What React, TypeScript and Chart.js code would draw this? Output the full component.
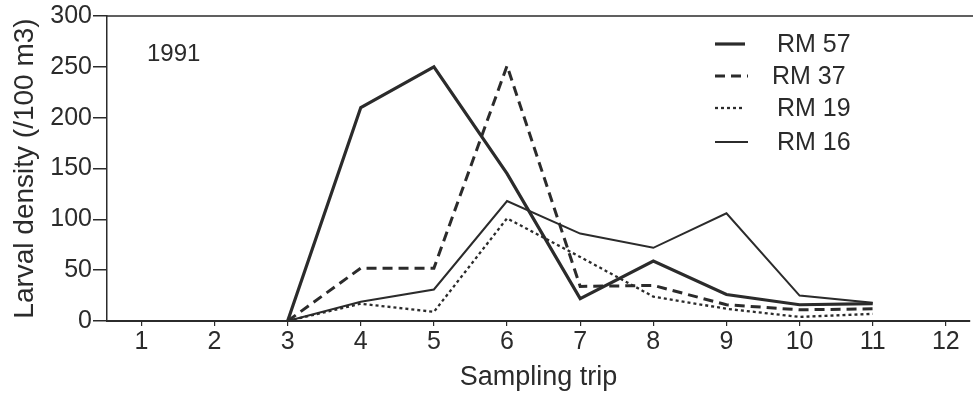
import React, { useEffect, useRef } from "react";
import { Chart, registerables } from "chart.js";

Chart.register(...registerables);

const trips = [3, 4, 5, 6, 7, 8, 9, 10, 11];
const rm57 = [0, 210, 250, 145, 22, 59, 26, 16, 17];
const rm37 = [0, 52, 52, 251, 34, 35, 16, 11, 12];
const rm19 = [0, 17, 9, 101, 63, 24, 12, 4, 7];
const rm16 = [0, 19, 31, 118, 86, 72, 106, 25, 18];
const xTicks = [1, 2, 3, 4, 5, 6, 7, 8, 9, 10, 11, 12];
const yTicks = [0, 50, 100, 150, 200, 250, 300];
const seriesNames = ["RM 57", "RM 37", "RM 19", "RM 16"];
const yearLabel = "1991";

const FONT = "'Liberation Sans', Arial, Helvetica, sans-serif";
const INK = "#2b2b2b";

const toPts = (vals: number[]) => trips.map((t, i) => ({ x: t, y: vals[i] }));

const decorPlugin = {
  id: "decor",
  afterDraw(chart: any) {
    const { ctx, chartArea } = chart;
    ctx.save();
    // top frame line
    ctx.strokeStyle = INK;
    ctx.lineWidth = 1.5;
    ctx.setLineDash([]);
    ctx.beginPath();
    ctx.moveTo(chartArea.left, chartArea.top);
    ctx.lineTo(chartArea.right + 3, chartArea.top);
    ctx.stroke();

    // year label
    ctx.fillStyle = INK;
    ctx.font = `24px ${FONT}`;
    ctx.textAlign = "left";
    ctx.textBaseline = "middle";
    ctx.fillText(yearLabel, chartArea.left + 40, chartArea.top + 38);

    // legend
    const rowY = [44, 76, 108, 142];
    const textX = [777, 772, 777, 777];
    const lineEnd = [745, 748, 742, 748];
    chart.data.datasets.forEach((ds: any, i: number) => {
      ctx.strokeStyle = ds.borderColor;
      ctx.lineWidth = ds.borderWidth;
      ctx.setLineDash(ds.borderDash || []);
      ctx.beginPath();
      ctx.moveTo(715, rowY[i]);
      ctx.lineTo(lineEnd[i], rowY[i]);
      ctx.stroke();
      ctx.setLineDash([]);
      ctx.fillStyle = INK;
      ctx.font = `25px ${FONT}`;
      ctx.fillText(ds.label, textX[i], rowY[i] + 1);
    });
    ctx.restore();
  },
};

export default function App() {
  const ref = useRef<HTMLCanvasElement | null>(null);
  useEffect(() => {
    document.body.style.margin = "0";
    const c = ref.current;
    if (!c) return;
    const chart = new Chart(c, {
      type: "line",
      data: {
        datasets: [
          { label: seriesNames[0], data: toPts(rm57), borderColor: INK, borderWidth: 3.2, borderDash: [], pointRadius: 0, fill: false, tension: 0 },
          { label: seriesNames[1], data: toPts(rm37), borderColor: INK, borderWidth: 3, borderDash: [10, 6], pointRadius: 0, fill: false, tension: 0 },
          { label: seriesNames[2], data: toPts(rm19), borderColor: INK, borderWidth: 2.3, borderDash: [3, 3], pointRadius: 0, fill: false, tension: 0 },
          { label: seriesNames[3], data: toPts(rm16), borderColor: INK, borderWidth: 2, borderDash: [], pointRadius: 0, fill: false, tension: 0 },
        ],
      },
      options: {
        animation: false,
        responsive: false,
        maintainAspectRatio: false,
        layout: { padding: { top: 15, right: 5, left: 0, bottom: 0 } },
        plugins: { legend: { display: false }, tooltip: { enabled: false }, title: { display: false } },
        scales: {
          x: {
            type: "linear",
            min: 0.53,
            max: 12.33,
            afterBuildTicks: (axis: any) => {
              axis.ticks = xTicks.map((v) => ({ value: v }));
            },
            afterFit: (axis: any) => {
              axis.height = 78;
            },
            grid: { drawOnChartArea: false, drawTicks: true, tickLength: 5, color: INK, lineWidth: 1.2 },
            border: { display: true, color: INK, width: 2 },
            ticks: { color: INK, font: { family: FONT, size: 25 }, padding: 1, maxRotation: 0, autoSkip: false },
            title: { display: true, text: "Sampling trip", color: INK, font: { family: FONT, size: 27 }, padding: { top: 0, bottom: 5 } },
          },
          y: {
            min: 0,
            max: 300,
            afterBuildTicks: (axis: any) => {
              axis.ticks = yTicks.map((v) => ({ value: v }));
            },
            afterFit: (axis: any) => {
              axis.width = 107;
            },
            grid: { drawOnChartArea: false, drawTicks: true, tickLength: 14, color: INK, lineWidth: 1.5 },
            border: { display: true, color: INK, width: 1.5 },
            ticks: { color: INK, font: { family: FONT, size: 25 }, padding: 1 },
            title: { display: true, text: "Larval density (/100 m3)", color: INK, font: { family: FONT, size: 28 }, padding: { top: 8, bottom: 0 } },
          },
        },
      },
      plugins: [decorPlugin],
    });
    return () => chart.destroy();
  }, []);
  return (
    <div style={{ width: 975, height: 399 }}>
      <canvas ref={ref} width={975} height={399} style={{ width: 975, height: 399, display: "block" }} />
    </div>
  );
}
